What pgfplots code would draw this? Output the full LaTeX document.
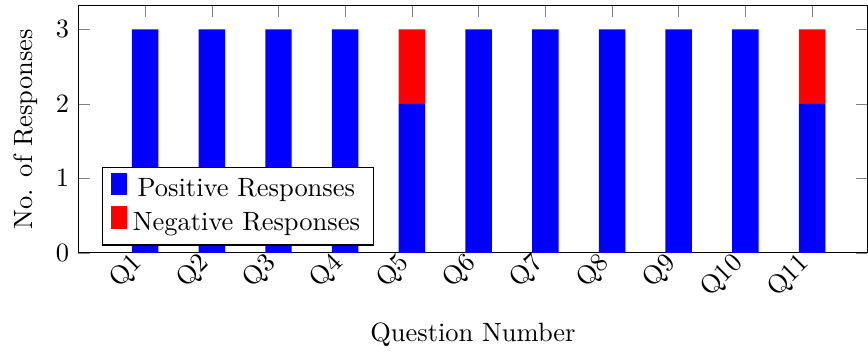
\documentclass[border=0pt]{standalone}
\usepackage{pgfplots}
\pgfplotsset{compat=1.18}
\begin{document}
\begin{tikzpicture}
\begin{axis}[
  ybar stacked,
  bar width=10pt,
  x=25.2pt, y=28.15pt,
  xmin=0, xmax=11.83,
  ymin=0, ymax=3.32,
  xtick={1,2,3,4,5,6,7,8,9,10,11},
  xticklabels={Q1,Q2,Q3,Q4,Q5,Q6,Q7,Q8,Q9,Q10,Q11},
  xticklabel style={rotate=45, anchor=east},
  ytick={0,1,2,3},
  xlabel={Question Number},
  ylabel={No. of Responses},
  legend cell align=center,
  legend style={at={(0.03,0.03)}, anchor=south west},
  legend image code/.code={\fill[#1] (0pt,-0.2em) rectangle (6.4pt,0.65em);},
]
\addplot[fill=blue, draw=none] coordinates {(1,3) (2,3) (3,3) (4,3) (5,2) (6,3) (7,3) (8,3) (9,3) (10,3) (11,2)};
\addplot[fill=red, draw=none] coordinates {(1,0) (2,0) (3,0) (4,0) (5,1) (6,0) (7,0) (8,0) (9,0) (10,0) (11,1)};
\legend{Positive Responses, Negative Responses}
\end{axis}
\path (current bounding box.north west) ++(-1.9pt,1.9pt);
\end{tikzpicture}
\end{document}
